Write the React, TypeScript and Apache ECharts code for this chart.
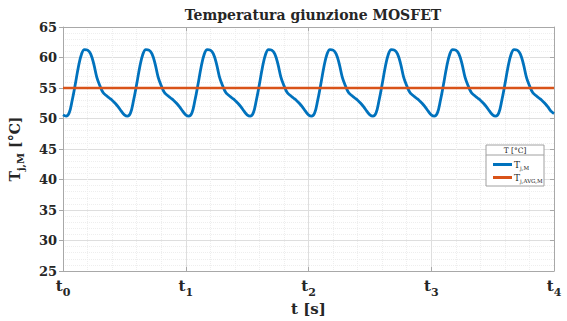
import React, { useEffect, useRef } from "react";
import * as echarts from "echarts";

// Sampling step of the junction temperature trace (in units of t)
const TIME_STEP = 0.025;

// Junction temperature T_j,M [°C] (8 periods, t0 .. t4)
const tjValues = [
  50.6, 50.4, 50.9, 53.0, 55.6, 58.4, 60.5, 61.3, 61.2, 60.6, 59.0, 56.8, 55.4, 54.3, 53.8, 53.4, 53.0, 52.5, 51.9, 51.2,
  50.6, 50.4, 50.9, 53.0, 55.6, 58.4, 60.5, 61.3, 61.2, 60.6, 59.0, 56.8, 55.4, 54.3, 53.8, 53.4, 53.0, 52.5, 51.9, 51.2,
  50.6, 50.4, 50.9, 53.0, 55.6, 58.4, 60.5, 61.3, 61.2, 60.6, 59.0, 56.8, 55.4, 54.3, 53.8, 53.4, 53.0, 52.5, 51.9, 51.2,
  50.6, 50.4, 50.9, 53.0, 55.6, 58.4, 60.5, 61.3, 61.2, 60.6, 59.0, 56.8, 55.4, 54.3, 53.8, 53.4, 53.0, 52.5, 51.9, 51.2,
  50.6, 50.4, 50.9, 53.0, 55.6, 58.4, 60.5, 61.3, 61.2, 60.6, 59.0, 56.8, 55.4, 54.3, 53.8, 53.4, 53.0, 52.5, 51.9, 51.2,
  50.6, 50.4, 50.9, 53.0, 55.6, 58.4, 60.5, 61.3, 61.2, 60.6, 59.0, 56.8, 55.4, 54.3, 53.8, 53.4, 53.0, 52.5, 51.9, 51.2,
  50.6, 50.4, 50.9, 53.0, 55.6, 58.4, 60.5, 61.3, 61.2, 60.6, 59.0, 56.8, 55.4, 54.3, 53.8, 53.4, 53.0, 52.5, 51.9, 51.2,
  50.6, 50.4, 50.9, 53.0, 55.6, 58.4, 60.5, 61.3, 61.2, 60.6, 59.0, 56.8, 55.4, 54.3, 53.8, 53.4, 53.0, 52.5, 51.9, 51.2,
  50.8,
];

// Average junction temperature T_j,AVG,M [°C]
const avgTimes = [0, 4];
const avgValues = [55, 55];

// Axes
const xMin = 0;
const xMax = 4;
const xTickSubscripts = ["0", "1", "2", "3", "4"];
const yMin = 25;
const yMax = 65;
const yInterval = 5;

const TITLE = "Temperatura giunzione MOSFET";
const SERIES_TJ = "Tj,M";
const SERIES_AVG = "Tj,AVG,M";

const FONT = "DejaVu Serif";
const TXT = "#262626";
const AXIS = "#a8a8a8";

export default function App() {
  const ref = useRef<HTMLDivElement>(null);

  useEffect(() => {
    const chart = echarts.init(ref.current!, null, { renderer: "svg" });

    const tjData = tjValues.map((v, i) => [i * TIME_STEP, v]);
    const avgData = avgTimes.map((t, i) => [t, avgValues[i]]);

    const option: any = {
      animation: false,
      backgroundColor: "#ffffff",
      textStyle: { fontFamily: FONT },
      title: {
        text: TITLE,
        left: 308,
        top: 3,
        textAlign: "center",
        textStyle: { fontFamily: FONT, fontWeight: "bold", fontSize: 14, color: TXT },
      },
      grid: { left: 63, right: 13, top: 27, bottom: 50, containLabel: false, outerBoundsMode: "none" },
      xAxis: [
        {
          type: "value",
          min: xMin,
          max: xMax,
          interval: 1,
          position: "bottom",
          name: "t [s]",
          nameLocation: "middle",
          nameGap: 30,
          nameMoveOverlap: false,
          nameTextStyle: { fontFamily: FONT, fontWeight: "bold", fontSize: 15, color: TXT },
          axisLine: { show: true, onZero: false, lineStyle: { color: AXIS, width: 1 } },
          axisTick: { show: true, inside: true, length: 4, lineStyle: { color: AXIS } },
          minorTick: { show: false, splitNumber: 5 },
          axisLabel: {
            margin: 14,
            formatter: (v: number) => `{t|t}{s|${xTickSubscripts[Math.round(v)]}}`,
            rich: {
              t: { fontFamily: FONT, fontWeight: "bold", fontSize: 15, lineHeight: 15, padding: [0, 0, 13, 0], color: TXT },
              s: { fontFamily: FONT, fontWeight: "bold", fontSize: 11, lineHeight: 11, color: TXT },
            },
          },
          splitLine: { show: true, lineStyle: { color: "#dedede", width: 1 } },
          minorSplitLine: { show: true, lineStyle: { color: "#eeeeee", width: 1, type: "dotted" } },
        },
        {
          type: "value",
          min: xMin,
          max: xMax,
          interval: 1,
          position: "top",
          axisLine: { show: true, onZero: false, lineStyle: { color: AXIS, width: 1 } },
          axisTick: { show: true, inside: true, length: 4, lineStyle: { color: AXIS } },
          axisLabel: { show: false },
          splitLine: { show: false },
        },
      ],
      yAxis: [
        {
          type: "value",
          min: yMin,
          max: yMax,
          interval: yInterval,
          position: "left",
          name: `{a|T}{b|j,M}{a| [°C]}`,
          nameLocation: "middle",
          nameRotate: 90,
          nameGap: 36,
          nameMoveOverlap: false,
          nameTextStyle: {
            rich: {
              a: { fontFamily: FONT, fontWeight: "bold", fontSize: 14, lineHeight: 14, padding: [0, 0, 10, 0], color: TXT },
              b: { fontFamily: FONT, fontWeight: "bold", fontSize: 10, lineHeight: 10, color: TXT },
            },
          },
          axisLine: { show: true, onZero: false, lineStyle: { color: AXIS, width: 1 } },
          axisTick: { show: true, inside: false, length: 4, lineStyle: { color: AXIS } },
          axisLabel: {
            margin: 6,
            fontFamily: FONT,
            fontWeight: "bold",
            fontSize: 13,
            color: TXT,
          },
          minorTick: { show: false, splitNumber: 5 },
          splitLine: { show: true, lineStyle: { color: "#dedede", width: 1 } },
          minorSplitLine: { show: true, lineStyle: { color: "#eeeeee", width: 1, type: "dotted" } },
        },
        {
          type: "value",
          min: yMin,
          max: yMax,
          interval: yInterval,
          position: "right",
          axisLine: { show: true, onZero: false, lineStyle: { color: AXIS, width: 1 } },
          axisTick: { show: true, inside: true, length: 4, lineStyle: { color: AXIS } },
          axisLabel: { show: false },
          splitLine: { show: false },
        },
      ],
      legend: {
        orient: "vertical",
        left: 488,
        top: 153,
        itemWidth: 19,
        itemHeight: 3,
        itemGap: 0,
        z: 10,
        data: [
          { name: SERIES_TJ, icon: "rect" },
          { name: SERIES_AVG, icon: "rect" },
        ],
        formatter: (name: string) =>
          name === SERIES_TJ ? "{a|T}{b|j,M}" : "{a|T}{b|j,AVG,M}",
        textStyle: {
          padding: [0, 0, 0, -3],
          rich: {
            a: { fontFamily: FONT, fontSize: 9, lineHeight: 9, color: TXT },
            b: { fontFamily: FONT, fontSize: 5.5, lineHeight: 6, padding: [7, 0, 0, 0], color: TXT },
          },
        },
      },
      graphic: [
        {
          type: "rect",
          z: 8,
          shape: { x: 486, y: 145, width: 58, height: 41 },
          style: { fill: "#ffffff", stroke: "#a0a0a0", lineWidth: 1 },
        },
        {
          type: "line",
          z: 9,
          shape: { x1: 486, y1: 155, x2: 544, y2: 155 },
          style: { stroke: "#a0a0a0", lineWidth: 1 },
        },
        {
          type: "text",
          z: 9,
          x: 515,
          y: 150,
          style: {
            text: "T [°C]",
            fontFamily: FONT,
            fontSize: 7.5,
            fill: TXT,
            textAlign: "center",
            textVerticalAlign: "middle",
          },
        },
      ],
      series: [
        {
          name: SERIES_TJ,
          type: "line",
          data: tjData,
          smooth: 0.4,
          showSymbol: false,
          symbol: "none",
          lineStyle: { color: "#0072BD", width: 2.8 },
          itemStyle: { color: "#0072BD" },
          z: 3,
        },
        {
          name: SERIES_AVG,
          type: "line",
          data: avgData,
          showSymbol: false,
          symbol: "none",
          lineStyle: { color: "#D95319", width: 2.6 },
          itemStyle: { color: "#D95319" },
          z: 4,
        },
      ],
    };

    chart.setOption(option);
    return () => chart.dispose();
  }, []);

  return (
    <div
      ref={ref}
      style={{ position: "absolute", left: 0, top: 0, width: 567, height: 321 }}
    />
  );
}
